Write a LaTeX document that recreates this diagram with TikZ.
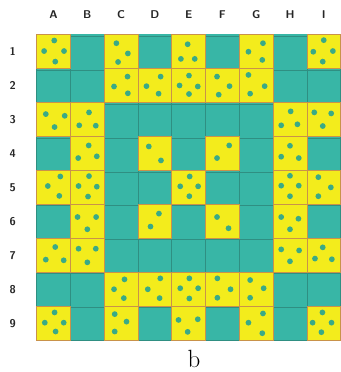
\documentclass[tikz,border=0pt]{standalone}
\usepackage{tikz}

\definecolor{cellyel}{HTML}{F3EC1C}
\definecolor{celltea}{HTML}{38B6A6}
\definecolor{spotcol}{HTML}{3AAA86}
\definecolor{linetea}{HTML}{2F8F82}
\definecolor{lineyel}{HTML}{C9924A}

% yellow cell: column, row (from top), list of spots u/v (from top left)
\newcommand{\yc}[3]{%
  \fill[yel] (#1,9-#2) rectangle ++(1,1);
  \draw[yeledge] (#1,9-#2) rectangle ++(1,1);
  \foreach \u/\v in {#3} \fill[spot] (#1+\u,10-#2-\v) circle (0.085);
}

\begin{document}
\begin{tikzpicture}[x=1cm, y=1.009cm,
  yel/.style={fill=cellyel},
  yeledge/.style={draw=lineyel, line width=0.5pt},
  spot/.style={fill=spotcol},
  lbl/.style={font=\fontsize{9.5}{10}\selectfont\sffamily\bfseries, text=black!85},
  captext/.style={font=\fontsize{21}{24}\selectfont, anchor=base, inner sep=0pt}]
  \useasboundingbox (-1.086,-0.918) rectangle (9.003,9.998);
  \fill[celltea] (0,0) rectangle (9,9);
  \draw[linetea, line width=0.5pt] (0,0) grid (9,9);

  \yc{0}{1}{.52/.19, .22/.5, .81/.5, .55/.81}
  \yc{2}{1}{.36/.27, .7/.57, .41/.82}
  \yc{4}{1}{.47/.3, .27/.73, .68/.73}
  \yc{6}{1}{.7/.27, .27/.52, .68/.76}
  \yc{8}{1}{.5/.18, .19/.52, .77/.5, .47/.81}
  \yc{2}{2}{.69/.25, .29/.54, .7/.74}
  \yc{3}{2}{.67/.25, .25/.53, .61/.75}
  \yc{4}{2}{.51/.22, .23/.51, .77/.54, .51/.76}
  \yc{5}{2}{.34/.25, .71/.53, .39/.78}
  \yc{6}{2}{.27/.2, .75/.53, .32/.75}
  \yc{0}{3}{.27/.35, .83/.4, .53/.73}
  \yc{1}{3}{.55/.3, .26/.68, .75/.69}
  \yc{7}{3}{.52/.27, .24/.68, .72/.65}
  \yc{8}{3}{.22/.3, .72/.33, .47/.7}
  \yc{1}{4}{.54/.27, .23/.64, .78/.59}
  \yc{3}{4}{.32/.3, .68/.71}
  \yc{5}{4}{.7/.27, .34/.64}
  \yc{7}{4}{.5/.28, .24/.6, .76/.64}
  \yc{0}{5}{.7/.18, .33/.46, .67/.75}
  \yc{1}{5}{.55/.17, .24/.46, .78/.48, .52/.77}
  \yc{4}{5}{.53/.18, .25/.47, .78/.47, .52/.76}
  \yc{7}{5}{.5/.16, .24/.45, .76/.45, .5/.76}
  \yc{8}{5}{.34/.2, .71/.5, .34/.76}
  \yc{1}{6}{.21/.37, .76/.37, .5/.73}
  \yc{3}{6}{.62/.27, .37/.65}
  \yc{5}{6}{.34/.37, .68/.7}
  \yc{7}{6}{.24/.37, .75/.42, .5/.73}
  \yc{0}{7}{.55/.25, .27/.62, .8/.64}
  \yc{1}{7}{.24/.3, .75/.3, .5/.7}
  \yc{7}{7}{.24/.32, .77/.35, .5/.67}
  \yc{8}{7}{.47/.26, .24/.59, .74/.61}
  \yc{2}{8}{.6/.2, .29/.49, .58/.75}
  \yc{3}{8}{.66/.17, .29/.49, .64/.75}
  \yc{4}{8}{.52/.17, .25/.46, .78/.46, .52/.76}
  \yc{5}{8}{.35/.17, .74/.49, .35/.74}
  \yc{6}{8}{.32/.22, .72/.46, .32/.74}
  \yc{0}{9}{.53/.17, .24/.47, .8/.47, .56/.73}
  \yc{2}{9}{.31/.22, .66/.44, .31/.73}
  \yc{4}{9}{.2/.39, .77/.37, .47/.74}
  \yc{6}{9}{.7/.2, .27/.47, .68/.78}
  \yc{8}{9}{.46/.17, .17/.47, .73/.47, .43/.75}

  \foreach \l [count=\i from 0] in {A,B,C,D,E,F,G,H,I}
    \node[lbl] (col\l) at (\i+0.5,9.56) {\l};
  \foreach \r in {1,...,9}
    \node[lbl] (row\r) at (-0.71,9.5-\r) {\r};
  \node[captext] (caption) at (4.66,-0.78) {b};
\end{tikzpicture}
\end{document}
